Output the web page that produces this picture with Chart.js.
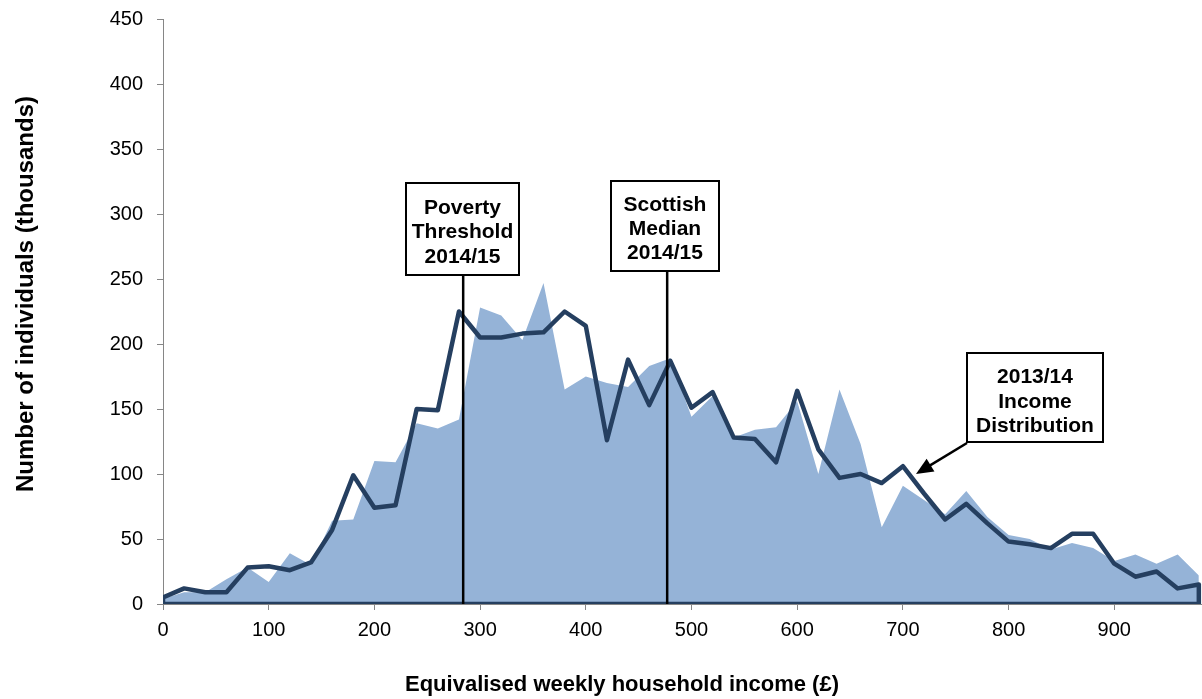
<!DOCTYPE html>
<html>
<head>
<meta charset="utf-8">
<script src="https://cdn.jsdelivr.net/npm/chart.js@4"></script>
<style>
  html, body { margin: 0; padding: 0; background: #fff; overflow: hidden; }
  #wrap { width: 1202px; height: 699px; position: relative; }
</style>
</head>
<body>
<div id="wrap"><canvas id="incomeChart"></canvas></div>
<script>
// Weekly income bands (£), one point every £20
const incomeBands = [0, 20, 40, 60, 80, 100, 120, 140, 160, 180,
  200, 220, 240, 260, 280, 300, 320, 340, 360, 380,
  400, 420, 440, 460, 480, 500, 520, 540, 560, 580,
  600, 620, 640, 660, 680, 700, 720, 740, 760, 780,
  800, 820, 840, 860, 880, 900, 920, 940, 960, 980];

// 2014/15 distribution (shaded area), thousands of individuals
const dist2014 = [4, 9, 9, 19, 28, 17, 39, 30, 64, 65,
  110, 109, 139, 135, 142, 228, 222, 203, 247, 165,
  175, 170, 167, 183, 189, 144, 160, 128, 134, 136,
  156, 100, 165, 123, 59, 91, 80, 69, 87, 67,
  53, 50, 42, 47, 43, 33, 38, 31, 38, 22];

// 2013/14 distribution (dark outline)
const dist2013 = [5, 12, 9, 9, 28, 29, 26, 32, 57, 99,
  74, 76, 150, 149, 225, 205, 205, 208, 209, 225,
  214, 126, 188, 153, 187, 151, 163, 128, 127, 109,
  164, 119, 97, 100, 93, 106, 85, 65, 77, 62,
  48, 46, 43, 54, 54, 31, 21, 25, 12, 15];

const xTicks = [0, 100, 200, 300, 400, 500, 600, 700, 800, 900];
const yTicks = [0, 50, 100, 150, 200, 250, 300, 350, 400, 450];

const povertyThreshold = 284; // £ per week
const scottishMedian = 477;

const fontFamily = "'Liberation Sans', Arial, sans-serif";

// area points
const areaPoints = incomeBands.map((v, i) => ({ x: v, y: dist2014[i] }));

// outline of the 2013/14 series, closed down to the axis like an unfilled area
const outlinePoints = [{ x: incomeBands[0], y: 0 }]
  .concat(incomeBands.map((v, i) => ({ x: v, y: dist2013[i] })))
  .concat([{ x: incomeBands[incomeBands.length - 1], y: 0 }, { x: incomeBands[0], y: 0 }]);

function drawBox(ctx, left, top, w, h, lines, lineYs) {
  ctx.save();
  ctx.fillStyle = '#fff';
  ctx.fillRect(left, top, w, h);
  ctx.lineWidth = 2;
  ctx.strokeStyle = '#000';
  ctx.strokeRect(left, top, w, h);
  ctx.fillStyle = '#000';
  ctx.font = 'bold 21px ' + fontFamily;
  ctx.textAlign = 'center';
  ctx.textBaseline = 'middle';
  lines.forEach((t, i) => ctx.fillText(t, left + w / 2, lineYs[i]));
  ctx.restore();
}

const annotationsPlugin = {
  id: 'annotations',
  afterDatasetsDraw(chart) {
    const { ctx, scales: { x, y } } = chart;
    const base = y.getPixelForValue(0);

    // vertical marker lines
    ctx.save();
    ctx.strokeStyle = '#000';
    ctx.lineWidth = 2.5;
    const px1 = x.getPixelForValue(povertyThreshold);
    ctx.beginPath(); ctx.moveTo(px1, 275); ctx.lineTo(px1, base); ctx.stroke();
    const px2 = x.getPixelForValue(scottishMedian);
    ctx.beginPath(); ctx.moveTo(px2, 271); ctx.lineTo(px2, base); ctx.stroke();
    ctx.restore();

    drawBox(ctx, 406, 183, 113, 92, ['Poverty', 'Threshold', '2014/15'], [208, 232, 257]);
    drawBox(ctx, 611, 181, 108, 90, ['Scottish', 'Median', '2014/15'], [205, 229, 253]);
    drawBox(ctx, 967, 353, 136, 89, ['2013/14', 'Income', 'Distribution'], [377, 402, 426]);

    // arrow from the label box to the 2013/14 line
    ctx.save();
    ctx.strokeStyle = '#000';
    ctx.fillStyle = '#000';
    ctx.lineWidth = 2.5;
    const sx = 967, sy = 443, ex = 916, ey = 474;
    const ang = Math.atan2(ey - sy, ex - sx);
    const head = 17, half = 7.5;
    ctx.beginPath();
    ctx.moveTo(sx, sy);
    ctx.lineTo(ex - Math.cos(ang) * head * 0.8, ey - Math.sin(ang) * head * 0.8);
    ctx.stroke();
    ctx.beginPath();
    ctx.moveTo(ex, ey);
    ctx.lineTo(ex - Math.cos(ang) * head + Math.sin(ang) * half, ey - Math.sin(ang) * head - Math.cos(ang) * half);
    ctx.lineTo(ex - Math.cos(ang) * head - Math.sin(ang) * half, ey - Math.sin(ang) * head + Math.cos(ang) * half);
    ctx.closePath();
    ctx.fill();
    ctx.restore();

    // axis titles
    ctx.save();
    ctx.fillStyle = '#000';
    ctx.textAlign = 'center';
    ctx.textBaseline = 'alphabetic';
    ctx.font = 'bold 22px ' + fontFamily;
    ctx.fillText('Equivalised weekly household income (£)', 622, 691);
    ctx.font = 'bold 24px ' + fontFamily;
    ctx.translate(33, 294);
    ctx.rotate(-Math.PI / 2);
    ctx.fillText('Number of individuals (thousands)', 0, 0);
    ctx.restore();
  }
};

const ctx = document.getElementById('incomeChart').getContext('2d');
new Chart(ctx, {
  type: 'line',
  data: {
    datasets: [
      {
        label: '2013/14 Income Distribution',
        data: outlinePoints,
        borderColor: '#253F60',
        borderWidth: 4.5,
        borderJoinStyle: 'round',
        pointRadius: 0,
        fill: false,
        tension: 0,
        order: 0
      },
      {
        label: '2014/15 Income Distribution',
        data: areaPoints,
        borderWidth: 0,
        borderColor: 'rgba(0,0,0,0)',
        backgroundColor: '#95B3D7',
        pointRadius: 0,
        fill: 'origin',
        tension: 0,
        order: 1
      }
    ]
  },
  options: {
    responsive: true,
    maintainAspectRatio: false,
    animation: false,
    layout: { padding: { top: 19, right: 0, left: 0, bottom: 0 } },
    plugins: {
      legend: { display: false },
      tooltip: { enabled: false }
    },
    scales: {
      x: {
        type: 'linear',
        min: 0,
        max: 983,
        afterBuildTicks: axis => { axis.ticks = xTicks.map(v => ({ value: v })); },
        afterFit: axis => { axis.height = 95; axis.paddingLeft = 0; axis.paddingRight = 0; },
        grid: { display: true, drawOnChartArea: false, drawTicks: true, tickLength: 6, color: '#868686' },
        border: { display: true, color: '#868686', width: 1 },
        ticks: { color: '#000', padding: 8, maxRotation: 0, autoSkip: false, font: { family: fontFamily, size: 20 } }
      },
      y: {
        min: 0,
        max: 450,
        afterBuildTicks: axis => { axis.ticks = yTicks.map(v => ({ value: v })); },
        afterFit: axis => { axis.width = 163; axis.paddingTop = 0; axis.paddingBottom = 0; },
        grid: { display: true, drawOnChartArea: false, drawTicks: true, tickLength: 6, color: '#868686' },
        border: { display: true, color: '#868686', width: 1 },
        ticks: { color: '#000', padding: 14, font: { family: fontFamily, size: 20 } }
      }
    }
  },
  plugins: [annotationsPlugin]
});
</script>
</body>
</html>
